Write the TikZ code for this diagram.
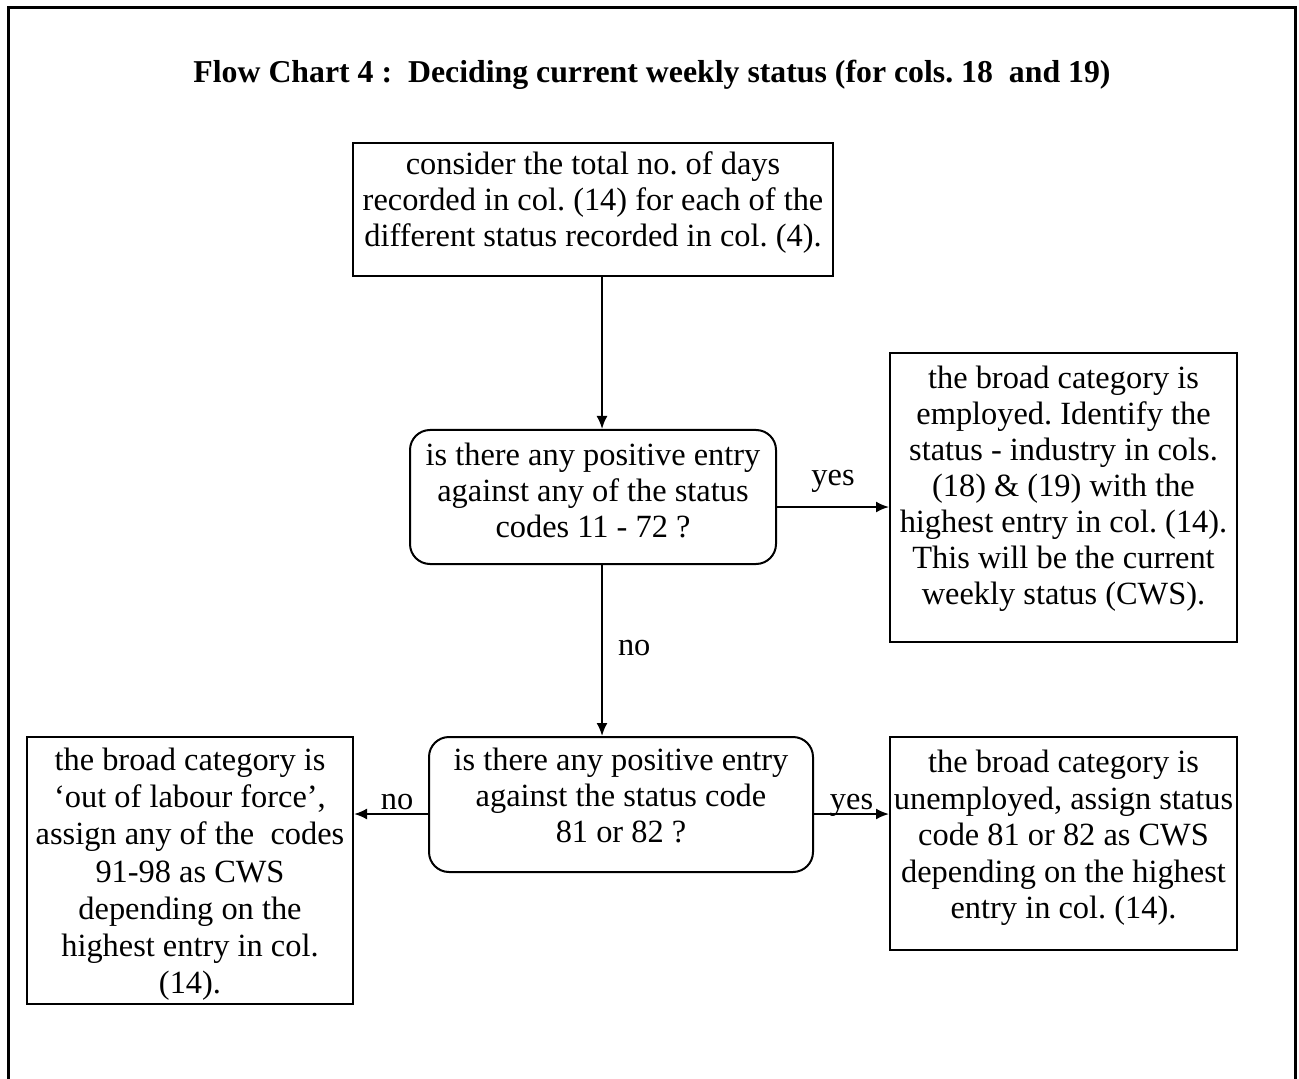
\documentclass[tikz,border=0pt]{standalone}
\usepackage{fontspec}
\setmainfont{Liberation Serif}
\frenchspacing
\usepackage{tikz}
\usetikzlibrary{shapes.geometric,arrows,arrows.meta}
\tikzstyle{proc} = [rectangle, align=center, line width=1pt, draw=black, inner sep=0pt, font=\fontsize{16.2}{18}\selectfont]
\tikzstyle{dec} = [rectangle, rounded corners=10pt, align=center, line width=1pt, draw=black, inner sep=0pt, font=\fontsize{16.2}{18}\selectfont]
\tikzstyle{lbl} = [inner sep=0pt, font=\fontsize{16.2}{18}\selectfont]
\tikzstyle{ttl} = [inner sep=0pt, font=\fontsize{15.9}{18}\selectfont\bfseries]
\tikzstyle{flow} = [line width=1pt, -{Latex[length=6.5pt,width=5.5pt]}]
\newcommand{\dn}[1]{\rule[-#1]{0pt}{#1}}
\newcommand{\up}[1]{\rule{0pt}{#1}}

\begin{document}
\begin{tikzpicture}[x=0.5pt,y=-0.5pt]
    \useasboundingbox (0,0) rectangle (1299,1079);
    \draw[line width=1.5pt] (8,1085) -- (8,8) -- (1295,8) -- (1295,1085);
    \node (title) [ttl] at (652,75) {Flow Chart 4 :~ Deciding current weekly status (for cols. 18~ and 19)};
    \node (cons) [proc, minimum width=240pt, minimum height=66.5pt] at (593,209.5) {consider the total no. of days\\ recorded in col. (14) for each of the\\ different status recorded in col. (4).\dn{10pt}};
    \node (q1) [dec, minimum width=183pt, minimum height=67pt] at (593,497) {is there any positive entry\\ against any of the status\\ codes 11 - 72 ?\dn{7pt}};
    \node (emp) [proc, minimum width=173.5pt, minimum height=144.5pt] at (1063.5,497.5) {the broad category is\\ employed. Identify the\\ status - industry in cols.\\ (18) \& (19) with the\\ highest entry in col. (14).\\ This will be the current\\ weekly status (CWS).\dn{12.5pt}};
    \node (q2) [dec, minimum width=192pt, minimum height=67.5pt] at (621,804.5) {is there any positive entry\\ against the status code\\ 81 or 82 ?\dn{9pt}};
    \node (olf) [proc, minimum width=163pt, minimum height=133.5pt, font=\fontsize{16.2}{18.6}\selectfont] at (190,870.5) {\up{15pt}the broad category is\\ ‘out of labour force’,\\ assign any of the~ codes\\ 91-98 as CWS\\ depending on the\\ highest entry in col.\\ (14).};
    \node (unemp) [proc, minimum width=173.5pt, minimum height=106.5pt, font=\fontsize{16.2}{18.25}\selectfont] at (1063.5,843.5) {the broad category is\\ unemployed, assign status\\ code 81 or 82 as CWS\\ depending on the highest\\ entry in col. (14).\dn{9pt}};
    \coordinate (spine) at (602,0);
    \coordinate (yesrow) at (0,507);
    \coordinate (lowrow) at (0,814);
    \draw[flow] (cons.south -| spine) -- (q1.north -| spine);
    \draw[flow] (q1.east |- yesrow) -- node[lbl, anchor=base, yshift=11pt] {yes} (emp.west |- yesrow);
    \draw[flow] (q1.south -| spine) -- node[lbl, anchor=base west, xshift=7.5pt, yshift=-2.5pt] {no} (q2.north -| spine);
    \draw[flow] (q2.west |- lowrow) -- node[lbl, anchor=base, yshift=2.5pt, xshift=3pt] {no} (olf.east |- lowrow);
    \draw[flow] (q2.east |- lowrow) -- node[lbl, anchor=base, yshift=2.5pt] {yes} (unemp.west |- lowrow);
\end{tikzpicture}
\end{document}
